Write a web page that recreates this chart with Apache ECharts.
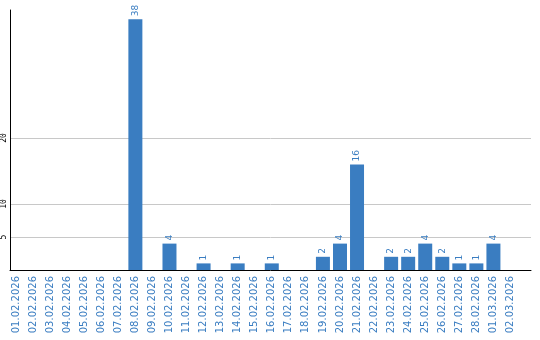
<!DOCTYPE html>
<html><head><meta charset="utf-8">
<script src="https://cdn.jsdelivr.net/npm/echarts@6/dist/echarts.min.js"></script>
<style>html,body{margin:0;padding:0;background:#fff}#c{width:540px;height:340px}</style>
</head><body><div id="c"></div>
<script>
const categories = ['01.02.2026','02.02.2026','03.02.2026','04.02.2026','05.02.2026','06.02.2026','07.02.2026','08.02.2026','09.02.2026','10.02.2026','11.02.2026','12.02.2026','13.02.2026','14.02.2026','15.02.2026','16.02.2026','17.02.2026','18.02.2026','19.02.2026','20.02.2026','21.02.2026','22.02.2026','23.02.2026','24.02.2026','25.02.2026','26.02.2026','27.02.2026','28.02.2026','01.03.2026','02.03.2026'];
const values = [0,0,0,0,0,0,0,38,0,4,0,1,0,1,0,1,0,0,2,4,16,0,2,2,4,2,1,1,4,0];
const yTicks = [5,10,20];
const yMax = 39.4;
const blue = '#3a7dc1';

const chart = echarts.init(document.getElementById('c'), null, {renderer:'canvas'});
chart.setOption({
  animation:false,
  grid:[
    {left:7.5, width:511.5, top:10, height:260},
    {left:10, right:9, top:10, height:260}
  ],
  xAxis:[
    {type:'category', gridIndex:0, data:categories,
     axisLine:{show:false}, axisTick:{show:false},
     axisLabel:{rotate:90, interval:0, margin:6, color:blue, fontSize:10, fontFamily:'DejaVu Sans'}},
    {type:'value', gridIndex:1, min:0, max:1,
     axisLine:{show:true, lineStyle:{color:'#000', width:1}}, axisTick:{show:false}, axisLabel:{show:false}, splitLine:{show:false}}
  ],
  yAxis:[
    {type:'value', gridIndex:0, min:0, max:yMax, show:false, splitLine:{show:false}},
    {type:'value', gridIndex:1, min:0, max:yMax, interval:5,
     axisLine:{show:true, lineStyle:{color:'#000', width:1}}, axisTick:{show:false},
     splitLine:{show:false},
     axisLabel:{rotate:90, margin:2, color:'#000', fontSize:8, fontFamily:'DejaVu Sans Mono',
       formatter: v => yTicks.includes(v) ? String(v) : ''}}
  ],
  series:[
    {type:'scatter', xAxisIndex:1, yAxisIndex:1, data:[], z:0, zlevel:0,
     markLine:{silent:true, symbol:'none', label:{show:false}, z:0,
       lineStyle:{color:'#c8c8c8', type:'solid', width:1},
       data: yTicks.map(v => ({yAxis:v}))}},
    {type:'bar', xAxisIndex:0, yAxisIndex:0, data:values, barWidth:14, z:10,
     itemStyle:{color:blue},
     label:{show:true, position:'top', rotate:90, align:'left', verticalAlign:'middle', distance:3,
       color:blue, fontSize:9, fontFamily:'DejaVu Sans',
       formatter: p => p.value ? String(p.value) : ''}}
  ]
});
</script></body></html>
